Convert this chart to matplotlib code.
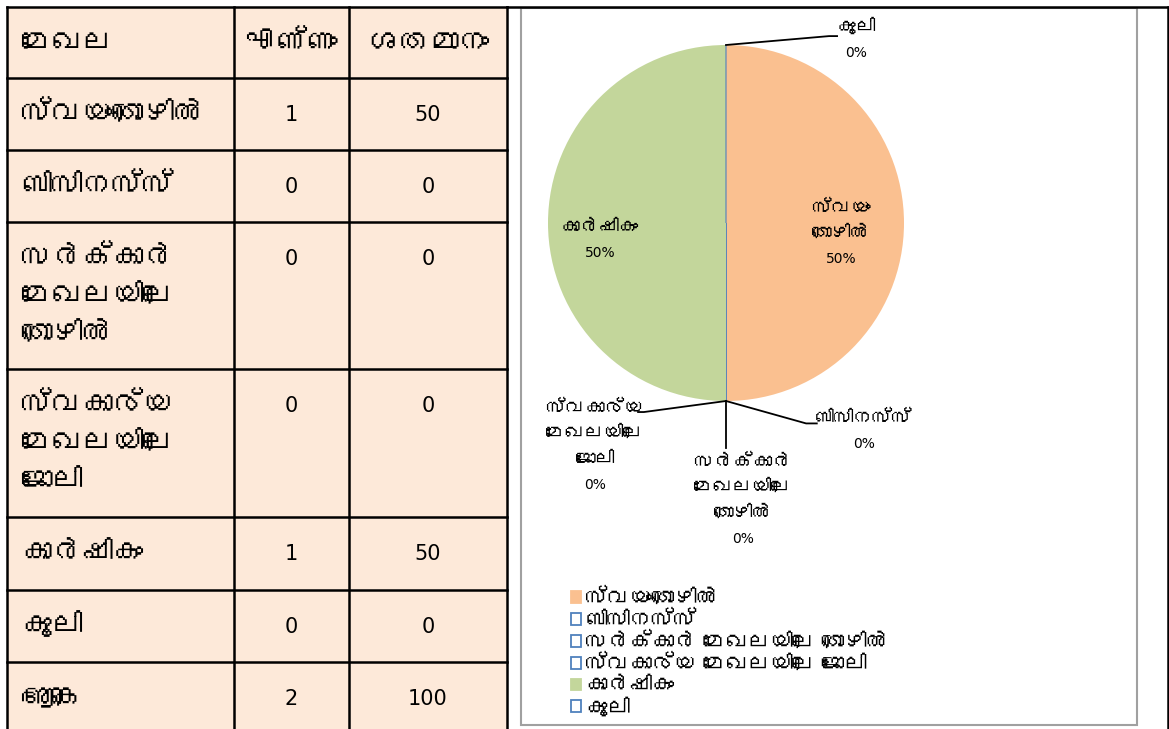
import matplotlib
matplotlib.use("Agg")
import matplotlib.pyplot as plt
from matplotlib import font_manager as fm
from matplotlib.ft2font import FT2Font
from matplotlib.patches import Rectangle
import numpy as np

# ---------------- data ----------------
header = ['മേഖല', 'എണ്ണം', 'ശതമാനം']
categories = ['സ്വയംതൊഴിൽ', 'ബിസിനസ്സ്', 'സർക്കാർ മേഖലയിലെ തൊഴിൽ',
              'സ്വകാര്യ മേഖലയിലെ ജോലി', 'കാർഷികം', 'കൂലി']
counts = [1, 0, 0, 0, 1, 0]
percents = [50, 0, 0, 0, 50, 0]
total_label = 'ആകെ'
total_count = 2
total_percent = 100
pie_label_text = ['സ്വയം\nതൊഴിൽ', 'ബിസിനസ്സ്', 'സർക്കാർ\nമേഖലയിലെ\nതൊഴിൽ',
                  'സ്വകാര്യ\nമേഖലയിലെ\nജോലി', 'കാർഷികം', 'കൂലി']

# ---------------- fonts ----------------
def find_malayalam_font():
    seen = set()
    for f in fm.fontManager.ttflist:
        if f.fname in seen:
            continue
        seen.add(f.fname)
        if 'CJK' in f.name:
            continue
        try:
            cm = FT2Font(f.fname).get_charmap()
        except Exception:
            continue
        if 0x0D2E in cm and 0x0D4D in cm:
            return f.name
    return None

ml = find_malayalam_font()
fam = ['DejaVu Sans', ml] if ml else ['DejaVu Sans']
plt.rcParams['font.family'] = fam

# ---------------- layout ----------------
W, H = 1169, 729
fig = plt.figure(figsize=(W / 100, H / 100), dpi=100)
ax = fig.add_axes([0, 0, 1, 1])
ax.set_xlim(0, W)
ax.set_ylim(0, H)
ax.axis('off')

def Y(y):
    return H - y

cell_fill = '#FDE9D9'
col_x = [7, 234, 349, 507]
row_y = [7, 78, 150, 222, 369, 517, 590, 662, 740]

ax.add_patch(Rectangle((col_x[0], Y(row_y[-1])), col_x[-1] - col_x[0],
                       row_y[-1] - row_y[0], facecolor=cell_fill, edgecolor='none', zorder=0))
lw = 1.8
for yy in row_y[:-1]:
    ax.plot([col_x[0], col_x[-1]], [Y(yy), Y(yy)], color='black', lw=lw,
            solid_capstyle='projecting', zorder=2)
for xx in col_x:
    ax.plot([xx, xx], [Y(row_y[0]), Y(row_y[-1])], color='black', lw=lw, zorder=2)
ax.plot([col_x[-1], 1168], [Y(7), Y(7)], color='black', lw=lw, zorder=2)
ax.plot([1168, 1168], [Y(7), Y(740)], color='black', lw=lw, zorder=2)

rows = [header] + [[c, str(n), str(p)] for c, n, p in zip(categories, counts, percents)] \
       + [[total_label, str(total_count), str(total_percent)]]
fs_ml_tab = 22
fs_num_tab = 15
for i, r in enumerate(rows):
    top = row_y[i]
    lines = r[0].split(' ') if i > 0 else [r[0]]
    for k, ln in enumerate(lines):
        ax.text(21, Y(top + 37 + 38 * k), ln, fontsize=fs_ml_tab, ha='left', va='center', zorder=3)
    fs2 = fs_ml_tab if i == 0 else fs_num_tab
    ax.text((col_x[1] + col_x[2]) / 2, Y(top + 37), r[1], fontsize=fs2, ha='center', va='center', zorder=3)
    ax.text((col_x[2] + col_x[3]) / 2, Y(top + 37), r[2], fontsize=fs2, ha='center', va='center', zorder=3)

# chart frame
ax.add_patch(Rectangle((521, Y(725)), 1137 - 521, 725 - 8, facecolor='white',
                       edgecolor='#A0A0A0', lw=1.5, zorder=1))

# ---------------- pie ----------------
cx, cy, R = 726, Y(223), 178
blue = '#4F81BD'
face = ['#FAC090', 'white', 'white', 'white', '#C3D69B', 'white']
edge = ['none', blue, blue, blue, 'none', blue]
wedges, _ = ax.pie(counts, colors=face, startangle=90, counterclock=False,
                   center=(cx, cy), radius=R, frame=True,
                   wedgeprops=dict(linewidth=0.8))
for w, ec in zip(wedges, edge):
    w.set_edgecolor(ec)
    w.set_zorder(4)
ax.set_xlim(0, W)
ax.set_ylim(0, H)
ax.set_aspect('auto')
ax.axis('off')

# label layout: first-line centre (dx, dy) in radius units; leader elbow & end in radius units
fs_lab_ml = 14
fs_lab_pct = 10
pitch = 25.5
lab_cfg = [
    dict(pos=(0.646, 0.084), leader=None),
    dict(pos=(0.775, -1.10), leader=((0.45, -1.126), (0.51, -1.126))),
    dict(pos=(0.095, -1.343), leader=((0.0, -1.264), (0.0, -1.264))),
    dict(pos=(-0.735, -1.04), leader=((-0.461, -1.062), (-0.494, -1.062))),
    dict(pos=(-0.708, -0.028), leader=None),
    dict(pos=(0.73, 1.101), leader=((0.579, 1.05), (0.624, 1.05))),
]

for w, txt, p, cfg in zip(wedges, pie_label_text, percents, lab_cfg):
    lx, ly = cx + cfg['pos'][0] * R, cy + cfg['pos'][1] * R
    parts = txt.split('\n')
    for k, ln in enumerate(parts):
        ax.text(lx, ly - pitch * k, ln, fontsize=fs_lab_ml, ha='center', va='center', zorder=6)
    ax.text(lx, ly - pitch * len(parts), f"{p}%", fontsize=fs_lab_pct, ha='center',
            va='center', zorder=6)
    if cfg['leader'] is not None:
        ang = np.deg2rad((w.theta1 + w.theta2) / 2)
        px, py = cx + R * np.cos(ang), cy + R * np.sin(ang)
        (ex, ey), (hx, hy) = cfg['leader']
        ax.plot([px, cx + ex * R, cx + hx * R], [py, cy + ey * R, cy + hy * R],
                color='black', lw=1.3, zorder=5)

leg = ax.legend(wedges, categories, loc='upper left', bbox_to_anchor=(571 / W, 1 - 589 / H),
                frameon=False, fontsize=16, handlelength=0.45, handleheight=0.45,
                handletextpad=0.2, labelspacing=0.08, borderpad=0.0, borderaxespad=0.0)
for h, fc, ec in zip(leg.legend_handles, face, edge):
    h.set_facecolor(fc)
    h.set_edgecolor(blue if ec != 'none' else fc)
    h.set_linewidth(1.3)

fig.savefig('out.png', dpi=100)
